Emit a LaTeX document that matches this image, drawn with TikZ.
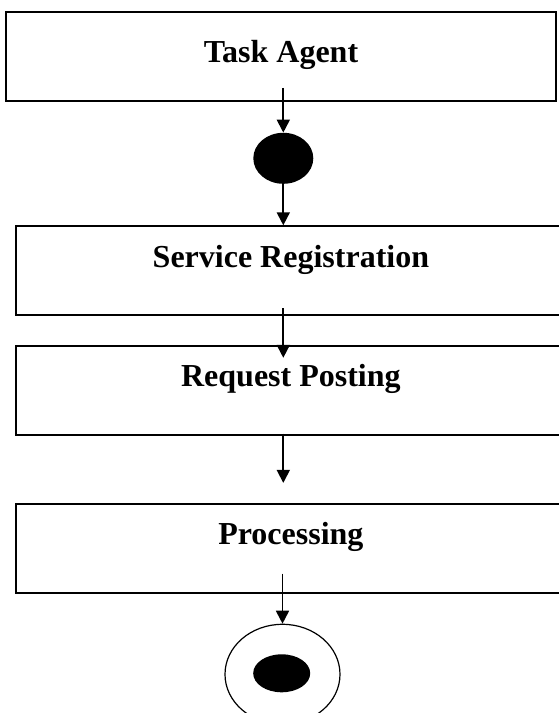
\documentclass[tikz,border=0pt]{standalone}
\usepackage{fontspec}
\setmainfont{Liberation Serif}
\usepackage{tikz}
\usetikzlibrary{%
	calc,%
	arrows.meta,%
	shapes.geometric,%
	positioning,%
}
\tikzset{
	>={Triangle[length=13pt,width=13pt]},%
	stage/.style={%
			draw,%
			rectangle,%
			line width=1.8pt,%
			minimum width=550pt,%
			inner xsep=0,%
			inner ysep=0,%
			text height=41pt,%
			text depth=48pt,%
			font={\bfseries\fontsize{32}{38}\selectfont}},%
	initnode/.style={%
			ellipse,%
			fill=black,%
			inner sep=0,%
			minimum width=60pt,%
			minimum height=51pt},%
	finalnode/.style={%
			ellipse,%
			draw,%
			line width=1.2pt,%
			inner sep=0,%
			minimum width=115pt,%
			minimum height=100pt},%
	finaldot/.style={%
			ellipse,%
			fill=black,%
			inner sep=0,%
			minimum width=57pt,%
			minimum height=38pt},%
	flow/.style={->, line width=1.8pt},%
}

\begin{document}
\begin{tikzpicture}
	\useasboundingbox (0,0) rectangle (558pt,713pt);

	\node[stage, text height=50.7pt, text depth=38.3pt] (ta) at (281pt,656.5pt) {Task Agent};
	\node[initnode, below=30.7pt of ta, xshift=2.3pt] (init) {};
	\node[stage, below=41.3pt of init, xshift=7.6pt] (sr) {Service Registration};
	\node[stage, below=28.7pt of sr] (rp) {Request Posting};
	\node[stage, below=67.3pt of rp] (proc) {Processing};
	\node[finalnode, below=30pt of proc, xshift=-8.4pt] (fin) {};
	\node[finaldot] (findot) at ($(fin)+(-0.8pt,1pt)$) {};

	\draw[flow, shorten <=-14pt] (ta.south -| init) -- (init.north);
	\draw[flow] (init.south) -- (sr.north -| init);
	\draw[flow, shorten <=-8pt, shorten >=-13pt] (sr.south -| init) -- (rp.north -| init);
	\draw[flow, shorten <=-2pt, shorten >=20pt] (rp.south -| init) -- (proc.north -| init);
	\draw[flow, shorten <=-20pt] (proc.south -| fin) -- (fin.north);
\end{tikzpicture}
\end{document}
